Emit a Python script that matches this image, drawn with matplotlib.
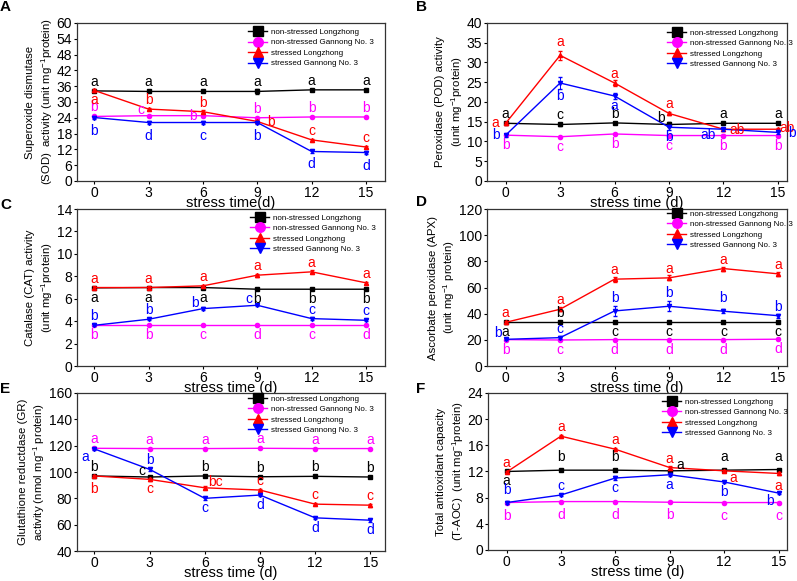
import matplotlib
matplotlib.use("Agg")
import matplotlib.pyplot as plt

plt.rcParams['font.family'] = ['Liberation Sans', 'DejaVu Sans']
plt.rcParams['mathtext.default'] = 'regular'

days = [0, 3, 6, 9, 12, 15]
series_names = ['non-stressed Longzhong', 'non-stressed Gannong No. 3',
                'stressed Longzhong', 'stressed Gannong No. 3']

# A - SOD
sod_nsl = [34.2, 34.0, 34.0, 34.0, 34.6, 34.6]
sod_nsg = [24.5, 24.8, 24.8, 24.0, 24.3, 24.3]
sod_sl = [34.4, 27.3, 26.3, 22.6, 15.6, 12.9]
sod_sg = [24.1, 22.2, 22.2, 22.2, 11.2, 10.8]
sod_err = [[0.4, 0.4, 0.4, 1.0, 0.4, 0.4], [0.4, 0.4, 0.4, 0.4, 0.4, 0.4],
           [0.5, 0.5, 0.5, 0.5, 0.5, 0.5], [0.4, 0.4, 0.4, 0.4, 0.4, 0.4]]
sod_let = [['a', 'a', 'a', 'a', 'a', 'a'], ['b', 'c', 'b', 'b', 'b', 'b'],
           ['a', 'b', 'b', 'b', 'c', 'c'], ['b', 'd', 'c', 'b', 'd', 'd']]

# B - POD
pod_nsl = [14.6, 14.3, 14.7, 14.3, 14.6, 14.6]
pod_nsg = [11.6, 11.2, 11.9, 11.5, 11.5, 11.5]
pod_sl = [14.6, 31.8, 24.8, 17.1, 13.1, 13.1]
pod_sg = [11.6, 24.8, 21.5, 13.6, 13.1, 12.3]
pod_err = [[0.3, 0.4, 0.3, 0.6, 0.3, 0.3], [0.3, 0.3, 0.3, 0.3, 0.3, 0.3],
           [0.4, 1.2, 0.8, 0.4, 0.4, 0.4], [0.4, 1.6, 0.8, 0.6, 0.4, 0.4]]
pod_let = [['a', 'c', 'b', 'b', 'a', 'a'], ['b', 'c', 'b', 'c', 'b', 'b'],
           ['a', 'a', 'a', 'a', 'ab', 'ab'], ['b', 'b', 'a', 'b', 'ab', 'b']]

# C - CAT
cat_nsl = [6.97, 7.0, 7.0, 6.85, 6.85, 6.85]
cat_nsg = [3.65, 3.65, 3.65, 3.65, 3.65, 3.65]
cat_sl = [7.0, 7.0, 7.15, 8.1, 8.4, 7.42]
cat_sg = [3.63, 4.17, 5.12, 5.42, 4.23, 4.08]
cat_err = [[0.08, 0.08, 0.08, 0.08, 0.08, 0.08], [0.08, 0.08, 0.08, 0.08, 0.08, 0.08],
           [0.1, 0.1, 0.1, 0.12, 0.12, 0.1], [0.1, 0.1, 0.1, 0.1, 0.1, 0.1]]
cat_let = [['a', 'a', 'a', 'b', 'b', 'b'], ['b', 'b', 'c', 'd', 'c', 'd'],
           ['a', 'a', 'a', 'a', 'a', 'a'], ['b', 'b', 'b', 'c', 'c', 'c']]

# D - APX
apx_nsl = [33.5, 33.5, 33.5, 33.5, 33.5, 33.5]
apx_nsg = [20.2, 19.9, 20.2, 20.2, 20.2, 20.5]
apx_sl = [33.4, 43.4, 66.4, 67.4, 74.5, 70.5]
apx_sg = [20.4, 21.7, 42.1, 45.7, 41.9, 38.5]
apx_err = [[0.8, 0.8, 0.8, 0.8, 0.8, 0.8], [0.8, 0.8, 0.8, 0.8, 0.8, 0.8],
           [1.0, 1.5, 2.0, 2.0, 1.5, 1.5], [0.8, 1.2, 3.5, 4.0, 1.5, 1.5]]
apx_let = [['a', 'b', 'c', 'c', 'c', 'c'], ['b', 'c', 'd', 'd', 'd', 'd'],
           ['a', 'a', 'a', 'a', 'a', 'a'], ['b', 'c', 'b', 'b', 'b', 'b']]

# E - GR
gr_nsl = [97.0, 96.2, 97.0, 96.4, 96.7, 96.2]
gr_nsg = [118.0, 117.8, 117.8, 118.0, 117.8, 117.8]
gr_sl = [97.0, 94.4, 88.0, 86.3, 75.6, 74.8]
gr_sg = [117.5, 102.0, 80.0, 82.5, 65.2, 63.4]
gr_err = [[0.8, 0.8, 0.8, 0.8, 0.8, 0.8], [0.8, 0.8, 0.8, 0.8, 0.8, 0.8],
           [1.0, 1.0, 1.0, 1.0, 1.0, 1.0], [1.0, 1.0, 1.0, 1.0, 1.0, 1.0]]
gr_let = [['b', 'c', 'b', 'b', 'b', 'b'], ['a', 'a', 'a', 'a', 'a', 'a'],
          ['b', 'c', 'bc', 'c', 'c', 'c'], ['a', 'b', 'c', 'd', 'd', 'd']]

# F - T-AOC
aoc_nsl = [12.0, 12.2, 12.2, 12.1, 12.2, 12.3]
aoc_nsg = [7.25, 7.4, 7.4, 7.3, 7.25, 7.25]
aoc_sl = [11.9, 17.4, 15.4, 12.6, 12.1, 11.7]
aoc_sg = [7.25, 8.4, 11.0, 11.5, 10.4, 8.7]
aoc_err = [[0.15, 0.15, 0.15, 0.15, 0.15, 0.15], [0.15, 0.15, 0.15, 0.15, 0.15, 0.15],
           [0.2, 0.2, 0.25, 0.2, 0.2, 0.2], [0.2, 0.2, 0.25, 0.2, 0.2, 0.2]]
aoc_let = [['a', 'b', 'b', 'a', 'a', 'a'], ['b', 'd', 'd', 'b', 'c', 'c'],
           ['a', 'a', 'a', 'a', 'a', 'a'], ['b', 'c', 'c', 'a', 'b', 'b']]

# where the letters sit around each point (pixels)
offs = {'u': (0, 9), 'uu': (0, 13), 'd': (0, -10), 'dd': (0, -13),
        'l': (-10, 0), 'r': (14, -1), 'rs': (9, 1), 'ul': (-8, 6),
        'ur': (11, 6), 'dl': (-9, -8), 'dr': (9, -7), 'dll': (-15, -6)}

colors = ['black', '#ff00ff', '#ff0000', '#0000ff']
markers = ['s', 'o', '^', 'v']

fig = plt.figure(figsize=(7.97, 5.81), dpi=100)


def draw_panel(rect, tag, tag_xy, data, errs, lets, pos, ylim, yticks, xlim,
               ylabel, xlabel, leg_xy):
    ax = fig.add_axes(rect)
    for k in range(4):
        ax.plot(days, data[k], color=colors[k], marker=markers[k], ms=3,
                lw=1, label=series_names[k])
        ax.errorbar(days, data[k], yerr=errs[k], fmt='none', ecolor=colors[k],
                    elinewidth=0.7, capsize=1.5)
        for i in range(6):
            dx, dy = offs[pos[k][i]]
            ax.annotate(lets[k][i], (days[i], data[k][i]), xytext=(dx, dy),
                        textcoords='offset pixels', ha='center', va='center',
                        fontsize=10, color=colors[k])
    ax.set_xlim(xlim)
    ax.set_ylim(ylim)
    ax.set_xticks(days)
    ax.set_yticks(yticks)
    ax.tick_params(direction='out', length=2.5, labelsize=10, pad=1)
    for s in ax.spines.values():
        s.set_linewidth(0.9)
        s.set_color('#333333')
    ax.set_xlabel(xlabel, fontsize=10.5, labelpad=-3)
    yl = ax.set_ylabel(ylabel, fontsize=8.2, labelpad=1, linespacing=1.35)
    yl.set_multialignment('center')
    ax.legend(loc='upper left', bbox_to_anchor=leg_xy, frameon=False,
              fontsize=5.8, markerscale=2.3, handlelength=2.4,
              handletextpad=0.4, labelspacing=0.35, borderpad=0,
              borderaxespad=0)
    fig.text(tag_xy[0], tag_xy[1], tag, fontsize=11, fontweight='bold',
             ha='left', va='center')
    return ax


draw_panel([0.0966, 0.6885, 0.3865, 0.272], 'A', (0.0, 0.988),
           [sod_nsl, sod_nsg, sod_sl, sod_sg], sod_err, sod_let,
           [['u'] * 6, ['u', 'ul', 'l', 'u', 'u', 'u'],
            ['d', 'u', 'u', 'r', 'u', 'u'], ['dd'] * 6],
           (0, 60), range(0, 61, 6), (-0.95, 16.05),
           'Superoxide dismutase\n(SOD)  activity (unit mg$^{-1}$protein)',
           'stress time(d)', (0.555, 0.966))

draw_panel([0.611, 0.6885, 0.3764, 0.272], 'B', (0.522, 0.988),
           [pod_nsl, pod_nsg, pod_sl, pod_sg], pod_err, pod_let,
           [['u', 'u', 'u', 'ul', 'u', 'u'], ['d'] * 6,
            ['l', 'uu', 'u', 'u', 'r', 'rs'], ['l', 'dd', 'd', 'd', 'dll', 'r']],
           (0, 40), range(0, 41, 5), (-1.03, 15.5),
           'Peroxidase (POD) activity\n(unit mg$^{-1}$protein)',
           'stress time (d)', (0.60, 0.962))

draw_panel([0.0966, 0.370, 0.3865, 0.2702], 'C', (0.0, 0.647),
           [cat_nsl, cat_nsg, cat_sl, cat_sg], cat_err, cat_let,
           [['d'] * 6, ['d'] * 6, ['u'] * 6, ['u', 'u', 'ul', 'ul', 'u', 'u']],
           (0, 14), range(0, 15, 2), (-0.95, 16.05),
           'Catalase (CAT) activity\n(unit mg$^{-1}$protein)',
           'stress time (d)', (0.562, 0.968))

draw_panel([0.611, 0.370, 0.3764, 0.2702], 'D', (0.522, 0.652),
           [apx_nsl, apx_nsg, apx_sl, apx_sg], apx_err, apx_let,
           [['d', 'u', 'd', 'd', 'd', 'd'], ['d'] * 6, ['u'] * 6,
            ['ul', 'u', 'uu', 'uu', 'uu', 'u']],
           (0, 120), range(0, 121, 20), (-1.03, 15.5),
           'Ascorbate peroxidase (APX)\n(unit mg$^{-1}$ protein)',
           'stress time (d)', (0.60, 0.994))

draw_panel([0.0966, 0.0516, 0.3865, 0.272], 'E', (0.0, 0.331),
           [gr_nsl, gr_nsg, gr_sl, gr_sg], gr_err, gr_let,
           [['u', 'ul', 'u', 'u', 'u', 'u'], ['u'] * 6,
            ['dd', 'd', 'ur', 'u', 'u', 'u'], ['dl', 'u', 'd', 'd', 'd', 'd']],
           (40, 160), range(40, 161, 20), (-0.95, 15.8),
           'Glutathione reductdase (GR)\nactivity (nmol mg$^{-1}$ protein)',
           'stress time (d)', (0.555, 0.987))

draw_panel([0.6123, 0.0534, 0.3752, 0.2702], 'F', (0.522, 0.331),
           [aoc_nsl, aoc_nsg, aoc_sl, aoc_sg], aoc_err, aoc_let,
           [['d', 'uu', 'uu', 'ur', 'uu', 'uu'], ['dd'] * 6,
            ['u', 'u', 'u', 'u', 'dr', 'dd'], ['uu', 'u', 'd', 'd', 'd', 'dl']],
           (0, 24), range(0, 25, 4), (-1.02, 15.47),
           'Total antioxidant capacity\n(T-AOC)  (unit mg$^{-1}$protein)',
           'stress time (d)', (0.582, 0.968))

fig.savefig('out.png', dpi=100)
